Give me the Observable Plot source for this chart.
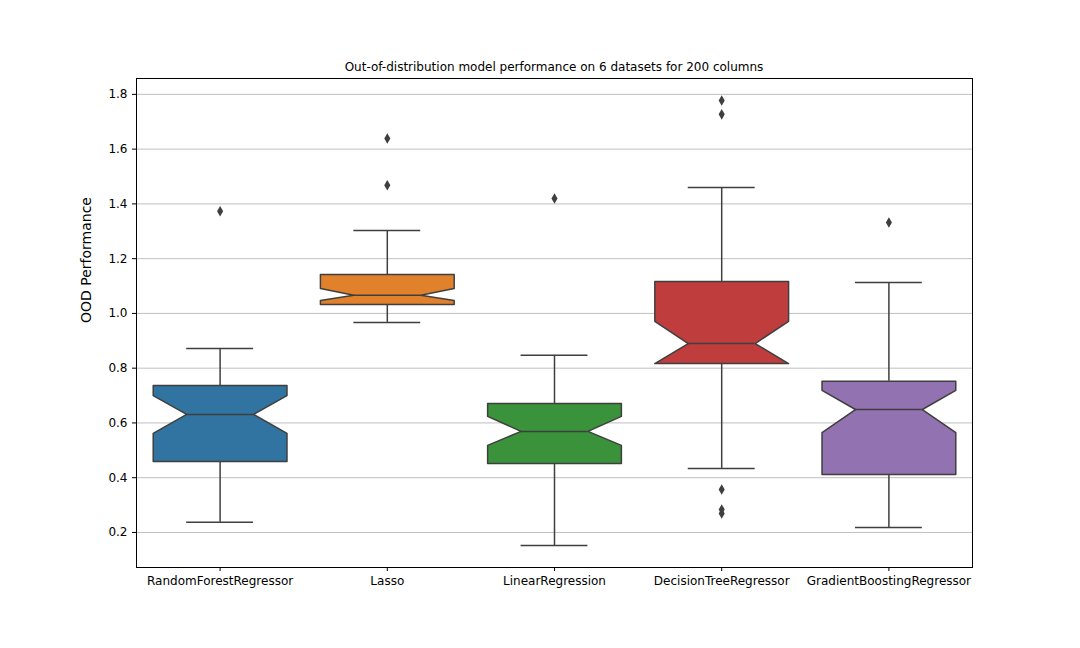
<!DOCTYPE html>
<html>
<head>
<meta charset="utf-8">
<script src="https://cdn.jsdelivr.net/npm/d3@7"></script>
<script src="https://cdn.jsdelivr.net/npm/@observablehq/plot@0.6"></script>
<style>
  body { margin: 0; background: white; font-family: "DejaVu Sans", sans-serif; }
  #wrap { position: relative; width: 1080px; height: 648px; }
  #title { position: absolute; top: 60px; left: 136px; width: 836px; text-align: center; font-size: 12px; }
</style>
</head>
<body>
<div id="wrap">
  <div id="title">Out-of-distribution model performance on 6 datasets for 200 columns</div>
  <div id="chart"></div>
</div>
<script>
let models = ['RandomForestRegressor', 'Lasso', 'LinearRegression', 'DecisionTreeRegressor', 'GradientBoostingRegressor'];
let colors = ['#3274a1', '#e1812c', '#3a923a', '#c03d3e', '#9372b2'];
let q1 = [0.459, 1.033, 0.452, 0.817, 0.412];
let q3 = [0.737, 1.142, 0.671, 1.117, 0.752];
let medians = [0.631, 1.066, 0.569, 0.890, 0.649];
let notchLo = [0.562, 1.047, 0.518, 0.817, 0.565];
let notchHi = [0.700, 1.091, 0.624, 0.971, 0.719];
let whiskLo = [0.237, 0.967, 0.152, 0.434, 0.218];
let whiskHi = [0.872, 1.303, 0.847, 1.460, 1.113];
let outliers = [[1.373], [1.639, 1.468], [1.42], [1.778, 1.727, 0.357, 0.284, 0.269], [1.332]];
let yTicks = [0.2, 0.4, 0.6, 0.8, 1.0, 1.2, 1.4, 1.6, 1.8];

const W = 0.4, N = 0.2; // half box width, half notch width
const poly = [];
models.forEach((m, i) => {
  const pts = [
    [i - W, q1[i]], [i - W, notchLo[i]], [i - N, medians[i]], [i - W, notchHi[i]], [i - W, q3[i]],
    [i + W, q3[i]], [i + W, notchHi[i]], [i + N, medians[i]], [i + W, notchLo[i]], [i + W, q1[i]],
    [i - W, q1[i]]
  ];
  pts.forEach(p => poly.push({ m: i, x: p[0], y: p[1] }));
});
const stats = models.map((m, i) => ({ i, q1: q1[i], q3: q3[i], med: medians[i], lo: whiskLo[i], hi: whiskHi[i] }));
const outs = outliers.flatMap((arr, i) => arr.map(v => ({ i, v })));
const edge = '#3f3f3f';

let chart = Plot.plot({
  width: 1080, height: 648,
  marginLeft: 136, marginRight: 108, marginTop: 78, marginBottom: 81,
  style: { fontSize: "12px", fontFamily: "DejaVu Sans, sans-serif", color: "black" },
  x: { domain: [-0.5, 4.5], ticks: [0, 1, 2, 3, 4], tickFormat: d => models[d], tickSize: 4, label: null },
  y: { domain: [0.072, 1.858], ticks: yTicks, tickFormat: d3.format(".1f"), tickSize: 4, label: null },
  marks: [
    Plot.gridY(yTicks, { stroke: "#b0b0b0", strokeOpacity: 1, strokeWidth: 0.8 }),
    Plot.ruleX(stats, { x: "i", y1: "lo", y2: "q1", stroke: edge, strokeWidth: 1.5 }),
    Plot.ruleX(stats, { x: "i", y1: "q3", y2: "hi", stroke: edge, strokeWidth: 1.5 }),
    Plot.ruleY(stats, { y: "lo", x1: d => d.i - N, x2: d => d.i + N, stroke: edge, strokeWidth: 1.5 }),
    Plot.ruleY(stats, { y: "hi", x1: d => d.i - N, x2: d => d.i + N, stroke: edge, strokeWidth: 1.5 }),
    Plot.line(poly, { x: "x", y: "y", z: "m", fill: d => colors[d.m], stroke: edge, strokeWidth: 1.5, curve: "linear" }),
    Plot.ruleY(stats, { y: "med", x1: d => d.i - N, x2: d => d.i + N, stroke: edge, strokeWidth: 1.5 }),
    Plot.dot(outs, { x: "i", y: "v", symbol: "diamond", r: 3.2, fill: edge, stroke: null }),
    Plot.frame({ stroke: "black", strokeWidth: 1 }),
    Plot.axisX({ ticks: [0, 1, 2, 3, 4], tickFormat: d => models[d], tickSize: 4, fontSize: 12 }),
    Plot.axisY({ ticks: yTicks, tickFormat: d3.format(".1f"), tickSize: 4, fontSize: 12 }),
    Plot.text(["OOD Performance"], { frameAnchor: "left", dx: -50, rotate: -90, fontSize: 14 })
  ]
});
document.getElementById("chart").append(chart);
</script>
</body>
</html>
